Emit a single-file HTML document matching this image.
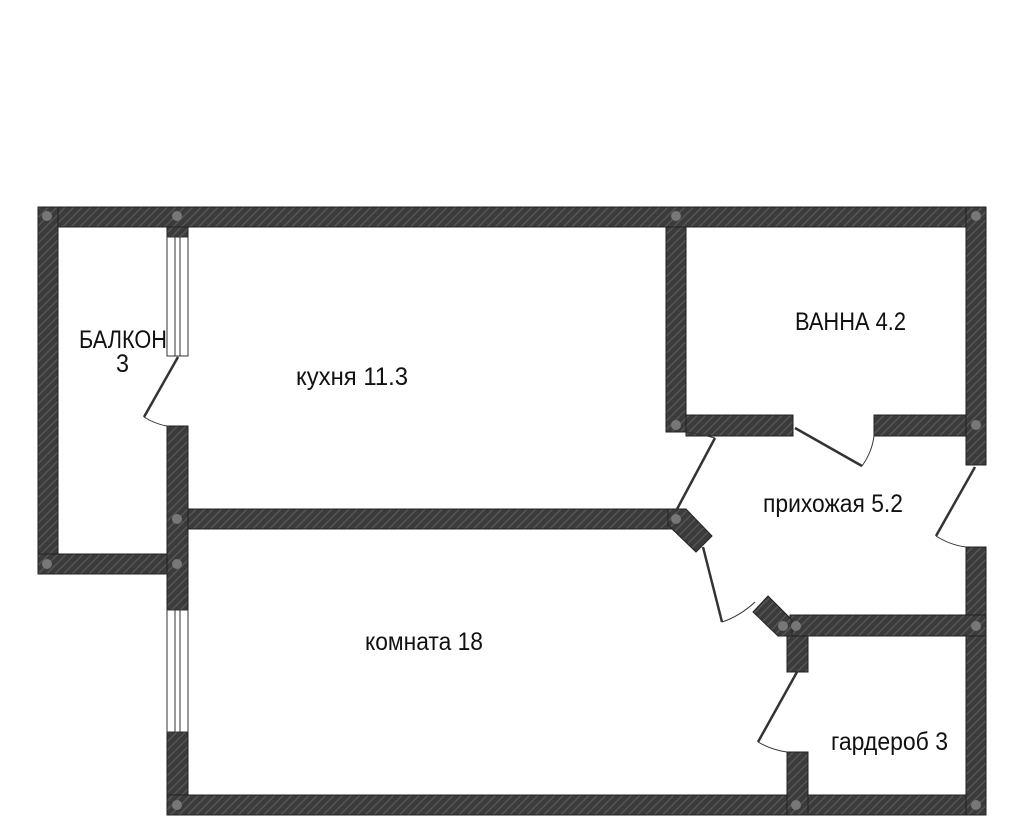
<!DOCTYPE html>
<html><head><meta charset="utf-8"><style>
html,body{margin:0;padding:0;background:#fff;width:1024px;height:819px;overflow:hidden}
text{font-family:"Liberation Sans",sans-serif;fill:#111}
</style></head><body>
<svg width="1024" height="819" viewBox="0 0 1024 819" xmlns="http://www.w3.org/2000/svg">
<defs>
<pattern id="h" width="6" height="6" patternUnits="userSpaceOnUse" patternTransform="rotate(45)">
<rect width="6" height="6" fill="#3b3b3b"/><rect width="1.5" height="6" fill="#555"/>
</pattern>
</defs>
<g fill="url(#h)" stroke="#222" stroke-width="1">
<rect x="38" y="207" width="948" height="20"/>
<rect x="38" y="207" width="20" height="367"/>
<rect x="38" y="554" width="150" height="20"/>
<rect x="167" y="227" width="21" height="10"/>
<rect x="167" y="426" width="21" height="184"/>
<rect x="167" y="732" width="21" height="83"/>
<rect x="167" y="795" width="819" height="20"/>
<rect x="188" y="509" width="488" height="20"/>
<polygon points="668,509 686,509 712,536 696,552 668,525"/>
<rect x="666" y="227" width="20" height="205"/>
<rect x="686" y="415" width="107" height="21"/>
<rect x="874" y="415" width="112" height="21"/>
<rect x="966" y="207" width="20" height="258"/>
<rect x="966" y="547" width="20" height="268"/>
<rect x="790" y="615" width="196" height="21"/>
<polygon points="753,612 768,596 792,620 792,636 778,636"/>
<rect x="787" y="636" width="21" height="36"/>
<rect x="787" y="752" width="21" height="63"/>
</g>
<g fill="#777">
<circle cx="47" cy="216" r="5"/><circle cx="177" cy="216" r="5"/><circle cx="676" cy="216" r="5"/><circle cx="976" cy="216" r="5"/>
<circle cx="177" cy="519" r="5"/><circle cx="47" cy="564" r="5"/><circle cx="177" cy="564" r="5"/>
<circle cx="676" cy="425" r="5"/><circle cx="976" cy="425" r="5"/><circle cx="676" cy="519" r="5"/>
<circle cx="783" cy="626" r="5"/><circle cx="796" cy="626" r="5"/><circle cx="976" cy="626" r="5"/>
<circle cx="177" cy="805" r="5"/><circle cx="796" cy="805" r="5"/><circle cx="976" cy="805" r="5"/>
</g>
<g fill="#fff" stroke="#333" stroke-width="1">
<rect x="167" y="237" width="21" height="119"/>
<line x1="175" y1="237" x2="175" y2="356"/><line x1="180" y1="237" x2="180" y2="356"/>
<rect x="167" y="610" width="21" height="122"/>
<line x1="175" y1="610" x2="175" y2="732"/><line x1="180" y1="610" x2="180" y2="732"/>
</g>
<g stroke="#333" stroke-width="2.5" fill="none">
<line x1="178" y1="357" x2="144" y2="417"/>
<line x1="715" y1="438" x2="676" y2="511"/>
<line x1="795" y1="428" x2="862" y2="466"/>
<line x1="975" y1="467" x2="936" y2="536"/>
<line x1="703" y1="547" x2="722" y2="622"/>
<line x1="797" y1="672" x2="758" y2="742"/>
</g>
<g stroke="#333" stroke-width="1" fill="none">
<path d="M144 417 Q155 424 167 426"/>
<path d="M862 466 Q872 452 874 436"/>
<path d="M936 536 Q950 545 966 547"/>
<path d="M722 622 Q740 616 755 602"/>
<path d="M758 742 Q772 750 787 752"/>
<path d="M686 432 Q700 434 715 438"/>
</g>
<g font-size="25">
<text x="79" y="348" textLength="88" lengthAdjust="spacingAndGlyphs">БАЛКОН</text>
<text x="116" y="372" textLength="13" lengthAdjust="spacingAndGlyphs">3</text>
<text x="296" y="385" textLength="112" lengthAdjust="spacingAndGlyphs">кухня 11.3</text>
<text x="795" y="330" textLength="111" lengthAdjust="spacingAndGlyphs">ВАННА 4.2</text>
<text x="763" y="512" textLength="140" lengthAdjust="spacingAndGlyphs">прихожая 5.2</text>
<text x="365" y="650" textLength="118" lengthAdjust="spacingAndGlyphs">комната 18</text>
<text x="831" y="750" textLength="117" lengthAdjust="spacingAndGlyphs">гардероб 3</text>
</g>
</svg>
</body></html>
